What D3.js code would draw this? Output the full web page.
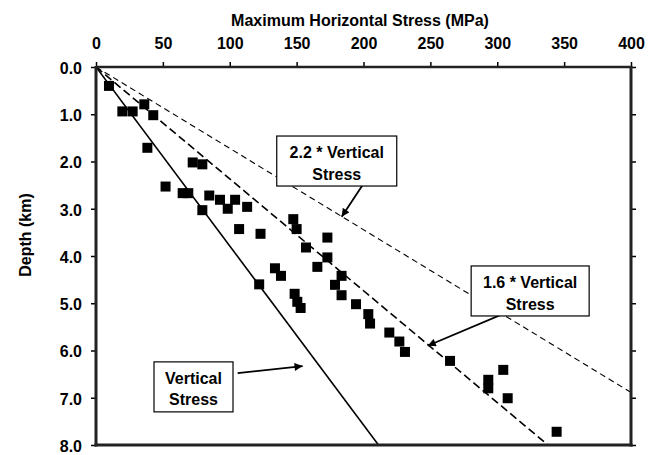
<!DOCTYPE html>
<html>
<head>
<meta charset="utf-8">
<script src="https://cdn.jsdelivr.net/npm/d3@7"></script>
<style>
  body { margin: 0; background: #fff; }
  text { font-family: "Liberation Sans", Arial, sans-serif; font-weight: bold; }
</style>
</head>
<body>
<script>
// measured stress vs depth
var stress = [9.7, 19.7, 27.4, 36.1, 42.8, 38.4, 52, 64.8, 69, 72.3,
  79.5, 79.5, 84.7, 92.7, 98.5, 104, 113, 107, 123, 147.5,
  150, 157, 173, 173, 165.5, 133.8, 138.3, 122, 178.7, 183.6,
  183.6, 148.5, 150.5, 153, 194.4, 203.6, 204.9, 219.3, 226.8, 231,
  264.7, 293.3, 293.3, 304.5, 307.8, 344.4];
var depth = [0.40, 0.94, 0.94, 0.79, 1.02, 1.71, 2.53, 2.67, 2.67, 2.02,
  2.06, 3.03, 2.72, 2.81, 3.0, 2.81, 2.96, 3.43, 3.53, 3.22,
  3.43, 3.82, 3.61, 4.03, 4.23, 4.26, 4.42, 4.6, 4.61, 4.42,
  4.83, 4.8, 4.97, 5.1, 5.02, 5.23, 5.43, 5.62, 5.81, 6.03,
  6.22, 6.62, 6.8, 6.41, 7.01, 7.72];

// reference gradients (MPa per km)
var vertGrad = 26.4;
var multipliers = [1, 1.6, 2.2];

var xTicks = [0, 50, 100, 150, 200, 250, 300, 350, 400];
var yTicks = [0, 1, 2, 3, 4, 5, 6, 7, 8];

var W = 661, H = 455;
var plotL = 96, plotR = 631, plotT = 67, plotB = 445;

var svg = d3.select("body").append("svg")
  .attr("width", W)
  .attr("height", H);

var x = d3.scaleLinear().domain([0, 400]).range([plotL, plotR]);
var y = d3.scaleLinear().domain([0, 8]).range([plotT, plotB]);

var defs = svg.append("defs");
defs.append("clipPath").attr("id", "plot")
  .append("rect")
  .attr("x", plotL).attr("y", plotT)
  .attr("width", plotR - plotL).attr("height", plotB - plotT);

defs.append("marker")
  .attr("id", "head")
  .attr("viewBox", "0 0 10 10")
  .attr("refX", 10).attr("refY", 5)
  .attr("markerWidth", 5).attr("markerHeight", 4.5)
  .attr("markerUnits", "strokeWidth")
  .attr("orient", "auto")
  .append("path")
  .attr("d", "M0,0 L10,5 L0,10 Z")
  .attr("fill", "#000");

// gradient lines
var lineStyle = {
  1: { w: 1.6, dash: null },
  1.6: { w: 1.6, dash: "8,4" },
  2.2: { w: 1.1, dash: "6,4" }
};
var lines = svg.append("g").attr("clip-path", "url(#plot)");
multipliers.forEach(function(m) {
  lines.append("line")
    .attr("x1", x(0)).attr("y1", y(0))
    .attr("x2", x(m * vertGrad * 8)).attr("y2", y(8))
    .attr("stroke", "#000")
    .attr("stroke-width", lineStyle[m].w)
    .attr("stroke-dasharray", lineStyle[m].dash);
});

// data squares
var sq = 10;
svg.append("g").selectAll("rect")
  .data(stress)
  .enter()
  .append("rect")
  .attr("x", function(d) { return x(d) - sq / 2; })
  .attr("y", function(d, i) { return y(depth[i]) - sq / 2; })
  .attr("width", sq)
  .attr("height", sq)
  .attr("fill", "#000");

// axes
var xAxis = svg.append("g")
  .attr("transform", "translate(0," + plotT + ")")
  .call(d3.axisTop(x).tickValues(xTicks).tickSize(5).tickPadding(13));
var yAxis = svg.append("g")
  .attr("transform", "translate(" + plotL + ",0)")
  .call(d3.axisLeft(y).tickValues(yTicks).tickSize(5).tickPadding(9).tickFormat(d3.format(".1f")));
var rAxis = svg.append("g")
  .attr("transform", "translate(" + plotR + ",0)")
  .call(d3.axisRight(y).tickValues(yTicks).tickSize(5).tickFormat(""));

[xAxis, yAxis, rAxis].forEach(function(a) {
  a.select(".domain").remove();
  a.selectAll("line").attr("stroke", "#000").attr("stroke-width", 1.5);
  a.selectAll("text")
    .attr("fill", "#000")
    .style("font-size", "16px")
    .style("font-family", "'Liberation Sans', Arial, sans-serif")
    .style("font-weight", "bold");
});
yAxis.selectAll("text").attr("dy", "0.4em");

// frame
svg.append("line").attr("x1", plotL).attr("x2", plotR).attr("y1", plotT).attr("y2", plotT)
  .attr("stroke", "#222").attr("stroke-width", 2.5);
svg.append("line").attr("x1", plotL).attr("x2", plotL).attr("y1", plotT - 1).attr("y2", plotB + 1.5)
  .attr("stroke", "#222").attr("stroke-width", 3);
svg.append("line").attr("x1", plotL - 1.5).attr("x2", plotR + 1.5).attr("y1", plotB).attr("y2", plotB)
  .attr("stroke", "#222").attr("stroke-width", 3);
svg.append("line").attr("x1", plotR).attr("x2", plotR).attr("y1", plotT - 1).attr("y2", plotB + 1.5)
  .attr("stroke", "#222").attr("stroke-width", 3);

// titles
svg.append("text")
  .attr("x", 360).attr("y", 26)
  .attr("text-anchor", "middle")
  .style("font-size", "16px")
  .text("Maximum Horizontal Stress (MPa)");
svg.append("text")
  .attr("transform", "translate(31,235) rotate(-90)")
  .attr("text-anchor", "middle")
  .style("font-size", "16px")
  .text("Depth (km)");

// annotation boxes with arrows: box centre (MPa, km), arrow start and tip (MPa, km)
var notes = [
  { lines: ["2.2 * Vertical", "Stress"], cx: 180, cy: 1.99, w: 120,
    from: [212.8, 1.92], to: [183.7, 3.17] },
  { lines: ["1.6 * Vertical", "Stress"], cx: 324.6, cy: 4.74, w: 118,
    from: [348.6, 4.70], to: [248, 5.9] },
  { lines: ["Vertical", "Stress"], cx: 72.9, cy: 6.77, w: 79,
    from: [105.9, 6.48], to: [154.5, 6.33] }
];
var boxH = 50;
notes.forEach(function(n) {
  var g = svg.append("g");
  var cx = x(n.cx), cy = y(n.cy);
  g.append("line")
    .attr("x1", x(n.from[0])).attr("y1", y(n.from[1]))
    .attr("x2", x(n.to[0])).attr("y2", y(n.to[1]))
    .attr("stroke", "#000").attr("stroke-width", 1.8)
    .attr("marker-end", "url(#head)");
  g.append("rect")
    .attr("x", cx - n.w / 2).attr("y", cy - boxH / 2)
    .attr("width", n.w).attr("height", boxH)
    .attr("fill", "#fff").attr("stroke", "#000").attr("stroke-width", 1.2);
  n.lines.forEach(function(t, i) {
    g.append("text")
      .attr("x", cx).attr("y", cy - boxH / 2 + 22 + i * 21.6)
      .attr("text-anchor", "middle")
      .style("font-size", "16px")
      .text(t);
  });
});
</script>
</body>
</html>
